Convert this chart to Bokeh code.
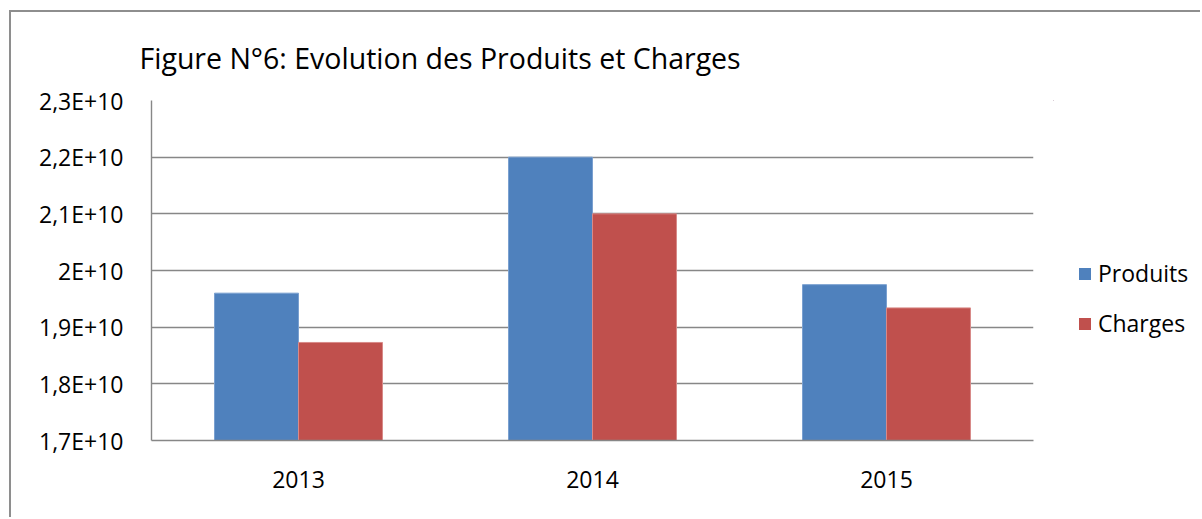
from bokeh.plotting import figure
from bokeh.models import FactorRange, Range1d, FixedTicker, ColumnDataSource, Legend, LegendItem
from bokeh.layouts import row
from bokeh.transform import dodge
from bokeh.embed import file_html
from bokeh.resources import INLINE

years = ["2013", "2014", "2015"]
produits = [1.960e10, 2.200e10, 1.975e10]
charges = [1.873e10, 2.100e10, 1.934e10]
y_ticks = [17000000000, 18000000000, 19000000000, 20000000000, 21000000000, 22000000000, 23000000000]
y_tick_labels = ["1,7E+10", "1,8E+10", "1,9E+10", "2E+10", "2,1E+10", "2,2E+10", "2,3E+10"]
series_names = ["Produits", "Charges"]
series_cols = ["produits", "charges"]
series_colors = ["#4F81BD", "#C0504D"]
edge_colors = ["#7aa0d0", "#d88a88"]
title_text = "Figure N°6: Evolution des Produits et Charges"

FONT = "Open Sans"

src = ColumnDataSource(dict(years=years, produits=produits, charges=charges))

p = figure(x_range=FactorRange(factors=years, range_padding=0),
           y_range=Range1d(1.7e10, 2.3e10),
           width=1042, height=505, output_backend="svg", toolbar_location=None,
           min_border_left=140, min_border_right=20, min_border_top=88, min_border_bottom=77)

p.title.text = title_text
p.title.text_font = FONT
p.title.text_font_size = "28.5px"
p.title.text_font_style = "normal"
p.title.text_color = "black"
p.title.align = "left"
p.title.offset = -12
p.title.standoff = 48

bw = 0.2857
p.vbar(x=dodge("years", -bw / 2, range=p.x_range), top="produits", bottom=1.7e10, width=bw,
       source=src, fill_color=series_colors[0], line_color=edge_colors[0], line_width=1)
p.vbar(x=dodge("years", bw / 2, range=p.x_range), top="charges", bottom=1.7e10, width=bw,
       source=src, fill_color=series_colors[1], line_color=edge_colors[1], line_width=1)

p.outline_line_color = None
p.xgrid.grid_line_color = None
p.ygrid.grid_line_color = "#878787"
p.ygrid.grid_line_width = 1.4
p.ygrid.level = "underlay"

p.yaxis.ticker = FixedTicker(ticks=y_ticks)
p.yaxis.major_label_overrides = {t: l for t, l in zip(y_ticks, y_tick_labels)}
p.yaxis.major_tick_line_color = None
p.yaxis.major_tick_out = 0
p.yaxis.major_tick_in = 0
p.yaxis.minor_tick_line_color = None
p.yaxis.axis_line_color = "#878787"
p.yaxis.axis_line_width = 1.4
p.yaxis.major_label_text_font = FONT
p.yaxis.major_label_text_font_size = "23px"
p.yaxis.major_label_text_color = "black"
p.yaxis.major_label_standoff = 28

p.xaxis.major_tick_line_color = None
p.xaxis.major_tick_out = 0
p.xaxis.major_tick_in = 0
p.xaxis.axis_line_color = "#878787"
p.xaxis.axis_line_width = 1.4
p.xaxis.major_label_text_font = FONT
p.xaxis.major_label_text_font_size = "23px"
p.xaxis.major_label_text_color = "black"
p.xaxis.major_label_standoff = 30

# legend panel (its proxy renderers lie outside its own visible range; only the legend shows)
q = figure(width=147, height=505, output_backend="svg", toolbar_location=None,
           x_axis_type=None, y_axis_type=None, x_range=Range1d(0, 1), y_range=Range1d(0, 1),
           min_border_left=0, min_border_right=0, min_border_top=0, min_border_bottom=0)
q.outline_line_color = None
q.xgrid.grid_line_color = None
q.ygrid.grid_line_color = None
items = []
for name, col, fc in zip(series_names, series_cols, series_colors):
    rr = q.vbar(x=-1, top=col, bottom=1.7e10, width=0.1, source=src,
                fill_color=fc, line_color=None)
    items.append(LegendItem(label=name, renderers=[rr]))
legend = Legend(items=items, location=(24, 101))
legend.border_line_color = None
legend.background_fill_alpha = 0
legend.margin = 0
legend.padding = 0
legend.glyph_width = 15
legend.glyph_height = 15
legend.label_height = 30
legend.spacing = 18
legend.label_standoff = 6
legend.label_text_font = FONT
legend.label_text_font_size = "23px"
legend.label_text_color = "black"
q.add_layout(legend)

layout = row(p, q)
layout.styles = {"border-left": "2px solid #8e8e8e", "border-top": "2px solid #8e8e8e",
                 "margin-left": "9px", "margin-top": "10px"}

open("out.html", "w").write(file_html(layout, INLINE))
